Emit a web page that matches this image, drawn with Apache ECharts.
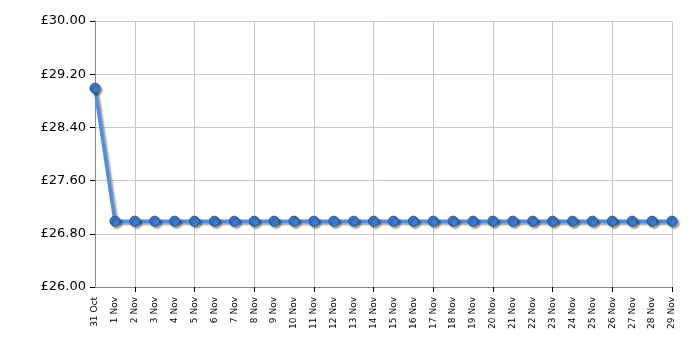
<!DOCTYPE html>
<html><head><meta charset="utf-8">
<script src="https://cdn.jsdelivr.net/npm/echarts@6/dist/echarts.min.js"></script>
<style>html,body{margin:0;padding:0;background:#fff}#c{width:700px;height:350px}</style>
</head><body><div id="c"></div>
<script>
const categories = ['31 Oct','1 Nov','2 Nov','3 Nov','4 Nov','5 Nov','6 Nov','7 Nov','8 Nov','9 Nov','10 Nov','11 Nov','12 Nov','13 Nov','14 Nov','15 Nov','16 Nov','17 Nov','18 Nov','19 Nov','20 Nov','21 Nov','22 Nov','23 Nov','24 Nov','25 Nov','26 Nov','27 Nov','28 Nov','29 Nov'];
const prices = [28.99,26.99,26.99,26.99,26.99,26.99,26.99,26.99,26.99,26.99,26.99,26.99,26.99,26.99,26.99,26.99,26.99,26.99,26.99,26.99,26.99,26.99,26.99,26.99,26.99,26.99,26.99,26.99,26.99,26.99];
const yMin = 26, yMax = 30, yStep = 0.8;

const chart = echarts.init(document.getElementById('c'), null, {renderer:'canvas'});
const gridEvery = (i) => i % 3 === 2;
chart.setOption({
  animation:false,
  grid:{left:95,right:28,top:21,bottom:63,containLabel:false},
  xAxis:{
    type:'category', data:categories, boundaryGap:false,
    axisLine:{lineStyle:{color:'#888',width:1}},
    axisTick:{show:true, interval:gridEvery, length:5, lineStyle:{color:'#000'}},
    splitLine:{show:true, interval:gridEvery, lineStyle:{color:'#c8c8c8',width:1}},
    axisLabel:{interval:0, rotate:90, fontSize:9, fontFamily:'DejaVu Sans', color:'#000', margin:10}
  },
  yAxis:{
    type:'value', min:yMin, max:yMax, interval:yStep,
    axisLine:{show:true,lineStyle:{color:'#888',width:1}},
    axisTick:{show:true,length:5,lineStyle:{color:'#000'}},
    splitLine:{show:true,lineStyle:{color:'#c8c8c8',width:1}},
    axisLabel:{fontSize:13, fontFamily:'DejaVu Sans', color:'#000', margin:9,
      formatter:(v)=>'£'+v.toFixed(2)}
  },
  series:[{
    type:'line', data:prices, symbol:'circle', symbolSize:10,
    lineStyle:{color:'#4f8fe2', width:3.5, shadowColor:'rgba(0,0,0,0.4)', shadowBlur:2, shadowOffsetX:2, shadowOffsetY:2},
    itemStyle:{color:'#3d7ad0', borderColor:'#2a5597', borderWidth:1, shadowColor:'rgba(0,0,0,0.4)', shadowBlur:2, shadowOffsetX:2, shadowOffsetY:2}
  }]
});
</script></body></html>
